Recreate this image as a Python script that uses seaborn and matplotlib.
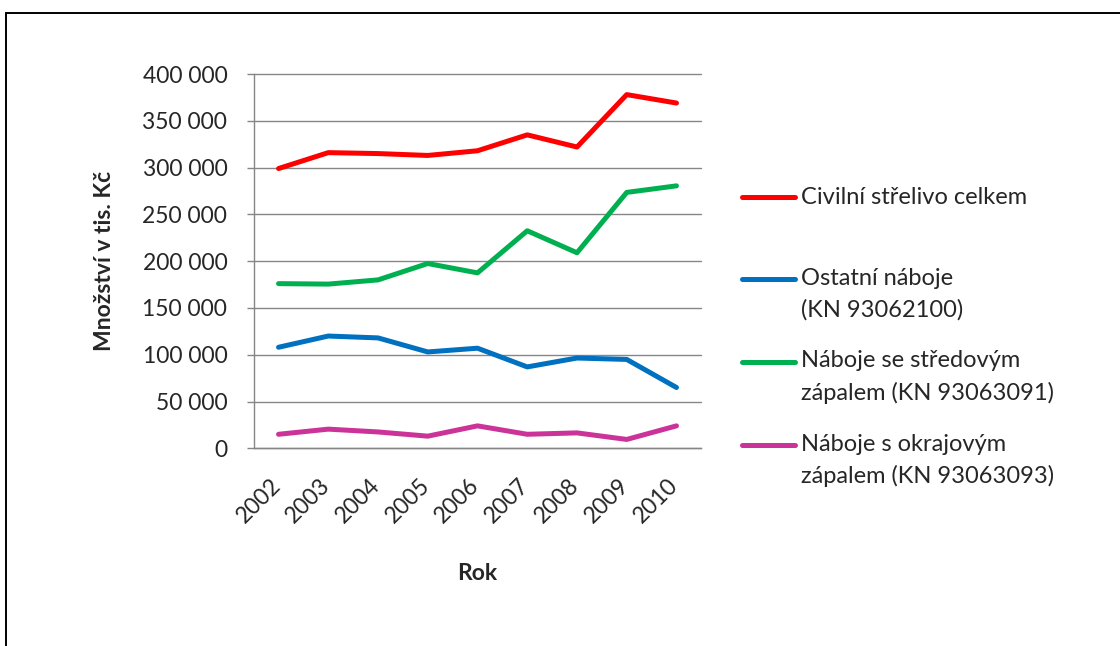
import numpy as np
import pandas as pd
import seaborn as sns
import matplotlib.pyplot as plt
import matplotlib.transforms as mtransforms
from matplotlib.patches import Rectangle
from matplotlib.legend_handler import HandlerLine2D
from matplotlib.ticker import FixedLocator, FuncFormatter

# values (tis. Kč)
years = [2002, 2003, 2004, 2005, 2006, 2007, 2008, 2009, 2010]
civilni = [299000, 316000, 315000, 313000, 318000, 335000, 322000, 378000, 369000]
ostatni = [108000, 120000, 118000, 103000, 107000, 87000, 96500, 95000, 65000]
stredovy = [176000, 175500, 180000, 197500, 187500, 232500, 209000, 273500, 280500]
okrajovy = [15000, 20500, 17500, 13000, 24000, 15000, 16500, 9500, 24000]

series_names = ["Civilní střelivo celkem",
                "Ostatní náboje\n(KN 93062100)",
                "Náboje se středovým\nzápalem (KN 93063091)",
                "Náboje s okrajovým\nzápalem (KN 93063093)"]
colors = ["#FF0000", "#0070C0", "#00B050", "#CC3399"]
y_ticks = [0, 50000, 100000, 150000, 200000, 250000, 300000, 350000, 400000]

df = pd.DataFrame({"Rok": years * 4,
                   "value": civilni + ostatni + stredovy + okrajovy,
                   "series": sum([[n] * len(years) for n in series_names], [])})

sns.set_style("white")
plt.rcParams["font.family"] = ["Lato", "DejaVu Sans"]
grey = "#868686"
fs = 16.5

fig = plt.figure(figsize=(11.2, 6.46), dpi=100)
ax = fig.add_axes([0.2265, 0.306, 0.3997, 0.5794])

sns.lineplot(data=df, x="Rok", y="value", hue="series", hue_order=series_names,
             palette=colors, linewidth=3.6, ax=ax, legend=False,
             solid_capstyle="round", solid_joinstyle="round")

ax.set_xlim(years[0] - 0.5, years[-1] + 0.5)
ax.set_ylim(0, 400000)
ax.yaxis.set_major_locator(FixedLocator(y_ticks))
ax.yaxis.set_major_formatter(FuncFormatter(lambda v, p: f"{v:,.0f}".replace(",", " ")))
ax.yaxis.grid(True, color=grey, lw=1)
for gl in ax.get_ygridlines():
    gl.set_clip_on(False)

ax.set_xticks(years)
ax.set_xticklabels([str(y) for y in years], rotation=45, ha="right")
ax.xaxis.set_minor_locator(FixedLocator([y - 0.5 for y in years] + [years[-1] + 0.5]))
ax.tick_params(axis="x", which="major", length=0, pad=19, labelsize=fs)
ax.tick_params(axis="x", which="minor", length=5, width=1, color=grey, direction="out")
ax.tick_params(axis="y", length=5, width=1, color=grey, direction="out", pad=14, labelsize=fs, left=True)
shift = mtransforms.ScaledTranslation(0.06, 0, fig.dpi_scale_trans)
for lab in ax.get_xticklabels():
    lab.set_transform(lab.get_transform() + shift)

for s in ["top", "right"]:
    ax.spines[s].set_visible(False)
for s in ["left", "bottom"]:
    ax.spines[s].set_color(grey)
    ax.spines[s].set_linewidth(1)

ax.set_xlabel("Rok", fontsize=fs, fontweight="bold", labelpad=26)
ax.set_ylabel("Množství v tis. Kč", fontsize=fs, fontweight="bold", labelpad=20)


# legend line sits next to the first text line, like Excel does
class FirstLineHandler(HandlerLine2D):
    def create_artists(self, legend, orig_handle, xdescent, ydescent, width, height, fontsize, trans):
        arts = super().create_artists(legend, orig_handle, xdescent, ydescent, width, height, fontsize, trans)
        for a in arts:
            a.set_ydata(np.asarray(a.get_ydata()) + 0.66 * fontsize)
        return arts


handles = ax.get_lines()[:4]
labels = [n if "\n" in n else n + "\n" for n in series_names]
leg = fig.legend(handles, labels, loc="upper left", bbox_to_anchor=(742 / 1120, 1 - 187 / 646),
                 frameon=False, fontsize=17, borderpad=0, borderaxespad=0,
                 handlelength=2.25, handletextpad=0.25, labelspacing=1.27,
                 handler_map={h: FirstLineHandler() for h in handles})
for t in leg.get_texts():
    t.set_linespacing(1.55)

# outer chart frame (runs off right and bottom edges)
fig.add_artist(Rectangle((5.5 / 1120, -0.2), 1.2, 1.2 - 12.5 / 646,
                         transform=fig.transFigure, fill=False, ec="black", lw=1.4, clip_on=False))

fig.savefig("out.png", dpi=100)
